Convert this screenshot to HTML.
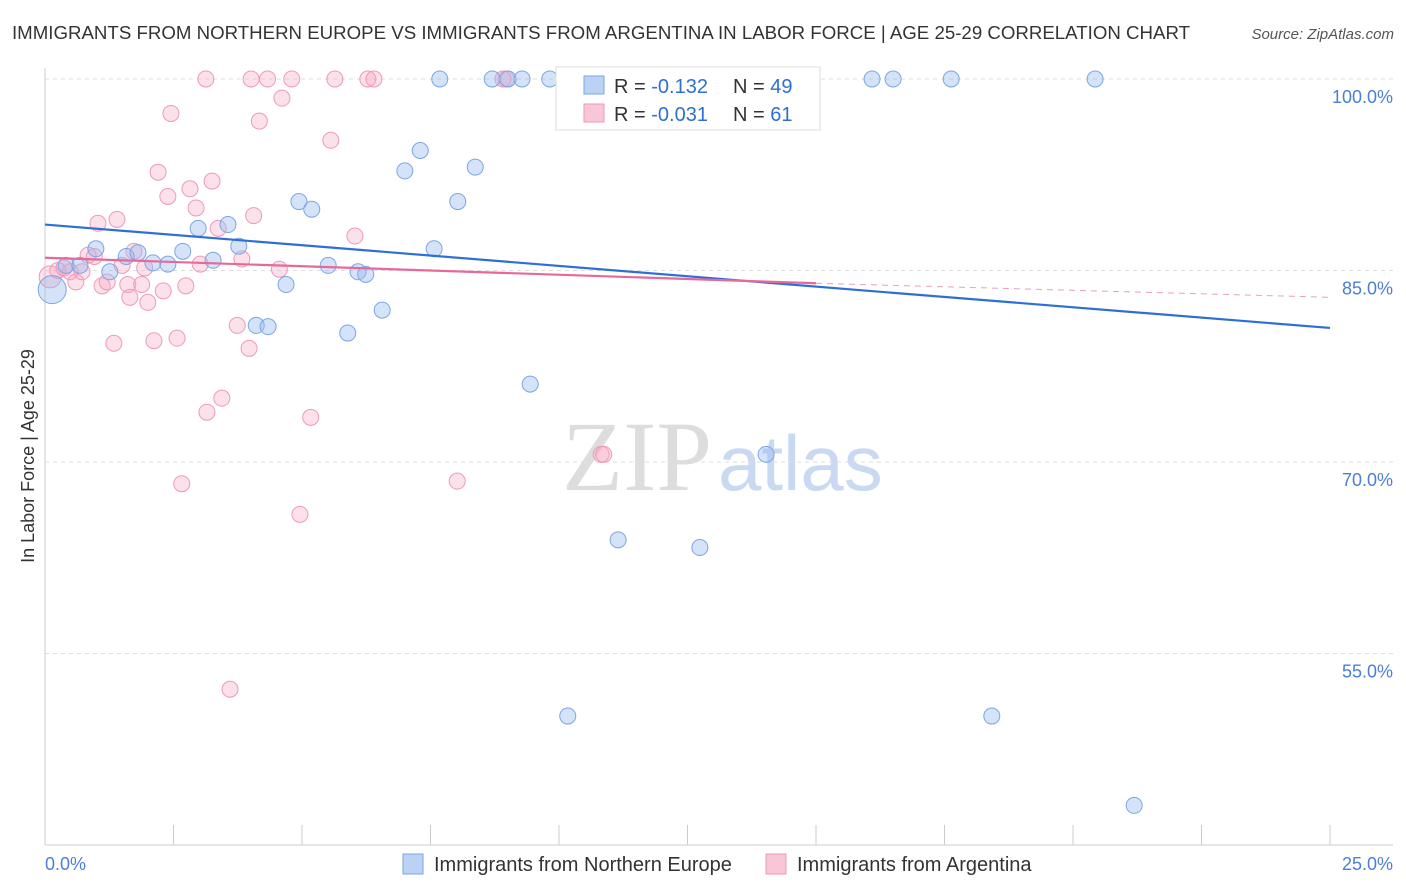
<!DOCTYPE html>
<html><head><meta charset="utf-8"><style>
body{margin:0;background:#fff;font-family:"Liberation Sans",sans-serif;}
svg{display:block}
</style></head><body>
<svg id="chart" width="1406" height="892">
<text x="12" y="39" font-size="18" fill="#333" textLength="1178" lengthAdjust="spacingAndGlyphs">IMMIGRANTS FROM NORTHERN EUROPE VS IMMIGRANTS FROM ARGENTINA IN LABOR FORCE | AGE 25-29 CORRELATION CHART</text>
<text x="1394" y="39" font-size="15" fill="#555" text-anchor="end" font-style="italic">Source: ZipAtlas.com</text>
<text x="712" y="490" font-size="100" fill="#ddd" text-anchor="end" font-family="Liberation Serif">ZIP</text>
<text x="718" y="490" font-size="78" fill="#c9d9f2">atlas</text>
<text transform="translate(34,456) rotate(-90)" font-size="18" fill="#333" text-anchor="middle">In Labor Force | Age 25-29</text>
<g id="grid"></g><g id="marks"></g><g id="lines"></g>
<g>
<rect x="556" y="67" width="264" height="63" fill="#fff" stroke="#ddd"/>
<rect x="584" y="76" width="20" height="18" fill="#bcd2f5" stroke="#7aa6e6"/>
<rect x="584" y="104" width="20" height="18" fill="#f9c6d6" stroke="#ee9ab8"/>
<text x="614" y="93" font-size="20" fill="#333">R = <tspan fill="#2e6fd6">-0.132</tspan></text>
<text x="733" y="93" font-size="20" fill="#333">N = <tspan fill="#2e6fd6">49</tspan></text>
<text x="614" y="121" font-size="20" fill="#333">R = <tspan fill="#2e6fd6">-0.031</tspan></text>
<text x="733" y="121" font-size="20" fill="#333">N = <tspan fill="#2e6fd6"> 61</tspan></text>
</g>
<g>
<rect x="403" y="854" width="20" height="20" fill="#bcd2f5" stroke="#7aa6e6"/>
<text x="434" y="871" font-size="20" fill="#333">Immigrants from Northern Europe</text>
<rect x="766" y="854" width="20" height="20" fill="#f9c6d6" stroke="#ee9ab8"/>
<text x="797" y="871" font-size="20" fill="#333">Immigrants from Argentina</text>
</g>
</svg>
<script>
const xTicks=[0,2.5,5,7.5,10,12.5,15,17.5,20,22.5,25];
const yTicks=[100,85,70,55];
const yTickLabels=["100.0%","85.0%","70.0%","55.0%"];
const blueX=[0.14,0.41,0.68,0.99,1.26,1.58,1.81,2.10,2.39,2.68,2.98,3.27,3.56,3.77,4.11,4.34,4.69,4.94,5.19,5.51,5.89,6.09,6.24,6.56,7.00,7.30,7.57,7.68,8.03,8.37,8.70,9.01,9.28,9.44,9.82,10.17,10.47,11.15,11.42,12.74,13.56,14.03,16.09,16.50,17.63,18.42,20.43,21.19];
const blueY=[83.5,85.4,85.4,86.7,84.9,86.1,86.4,85.6,85.5,86.5,88.3,85.8,88.6,86.9,80.7,80.6,83.9,90.4,89.8,85.4,80.1,84.9,84.7,81.9,92.8,94.4,86.7,100,90.4,93.1,100,100,100,76.1,100,50.1,100,63.9,100,63.3,100,70.6,100,100,100,50.1,100,43.1];
const pinkX=[0.10,0.25,0.37,0.49,0.60,0.72,0.84,0.96,1.03,1.11,1.21,1.34,1.40,1.50,1.61,1.73,1.65,1.88,1.94,2.0,2.12,2.20,2.30,2.39,2.45,2.57,2.66,2.74,2.82,2.94,3.02,3.13,3.15,3.25,3.37,3.44,3.60,3.74,3.83,3.97,4.01,4.06,4.17,4.33,4.56,4.61,4.80,4.96,5.17,5.56,5.64,6.03,6.28,6.40,8.02,8.91,8.97,10.82,10.87];
const pinkY=[84.5,85.0,85.2,84.9,84.1,84.9,86.2,86.1,88.7,83.8,84.1,79.3,89.0,85.4,83.9,86.5,82.9,83.9,85.2,82.5,79.5,92.7,83.4,90.8,97.3,79.7,68.3,83.8,91.4,89.9,85.5,100,73.9,92.0,88.3,75.0,52.2,80.7,85.9,78.9,100,89.3,96.7,100,85.1,98.5,100,65.9,73.5,95.2,100,87.7,100,100,68.5,100,100,70.6,70.6];
const blueTrend=[[0,88.6],[25,80.5]];
const pinkTrend=[[0,86.0],[15,84.0]];
const pinkDash=[[15,84.0],[25,82.9]];
const X=v=>45+v/25*1285, Y=v=>79+(100-v)*191.5/15;
const NS="http://www.w3.org/2000/svg";
function mk(t,a,p){const e=document.createElementNS(NS,t);for(const k in a)e.setAttribute(k,a[k]);p.appendChild(e);return e;}
const g=document.getElementById('grid'),m=document.getElementById('marks'),l=document.getElementById('lines');
let ax=mk('line',{x1:45,y1:68,x2:45,y2:845,stroke:'#ccc'},g);


let bx=mk('line',{x1:45,y1:845,x2:1393,y2:845,stroke:'#ccc'},g);


yTicks.forEach((v,i)=>{
 const ln=mk('line',{x1:45,x2:1393,y1:Y(v),y2:Y(v),stroke:'#ddd','stroke-dasharray':'4,4'},g);
 
 
 const t=mk('text',{x:1393,y:Y(v)+24,'font-size':18,fill:'#4a7fd4','text-anchor':'end'},g);t.textContent=yTickLabels[i];
 
 
});
xTicks.forEach((v,i)=>{if(i==0)return;
 const tk=mk('line',{x1:X(v),x2:X(v),y1:825,y2:845,stroke:'#ccc'},g);
 
 
});
[[0,"0.0%","start"],[25,"25.0%","end"]].forEach(([v,s,a])=>{
 const t=mk('text',{x:a=="start"?X(v):1393,y:870,'font-size':18,fill:'#4a7fd4','text-anchor':a},g);t.textContent=s;
 
 
});
pinkX.forEach((x,i)=>{const c=mk('circle',{cx:X(x),cy:Y(pinkY[i]),r:i==0?11:8,fill:'rgba(245,165,195,0.35)',stroke:'#ee9ab8','stroke-width':1},m);
 
 });
blueX.forEach((x,i)=>{const c=mk('circle',{cx:X(x),cy:Y(blueY[i]),r:i==0?14:8,fill:'rgba(150,185,240,0.4)',stroke:'#7aa6e6','stroke-width':1},m);
 
 });
let t1=mk('line',{x1:X(blueTrend[0][0]),y1:Y(blueTrend[0][1]),x2:X(blueTrend[1][0]),y2:Y(blueTrend[1][1]),stroke:'#2e6fd6','stroke-width':2.2},l);


let t2=mk('line',{x1:X(pinkTrend[0][0]),y1:Y(pinkTrend[0][1]),x2:X(pinkTrend[1][0]),y2:Y(pinkTrend[1][1]),stroke:'#e8689a','stroke-width':2.2},l);


let t3=mk('line',{x1:X(pinkDash[0][0]),y1:Y(pinkDash[0][1]),x2:X(pinkDash[1][0]),y2:Y(pinkDash[1][1]),stroke:'#e8a0b8','stroke-width':1,'stroke-dasharray':'6,5'},l);


</script>
</body></html>
